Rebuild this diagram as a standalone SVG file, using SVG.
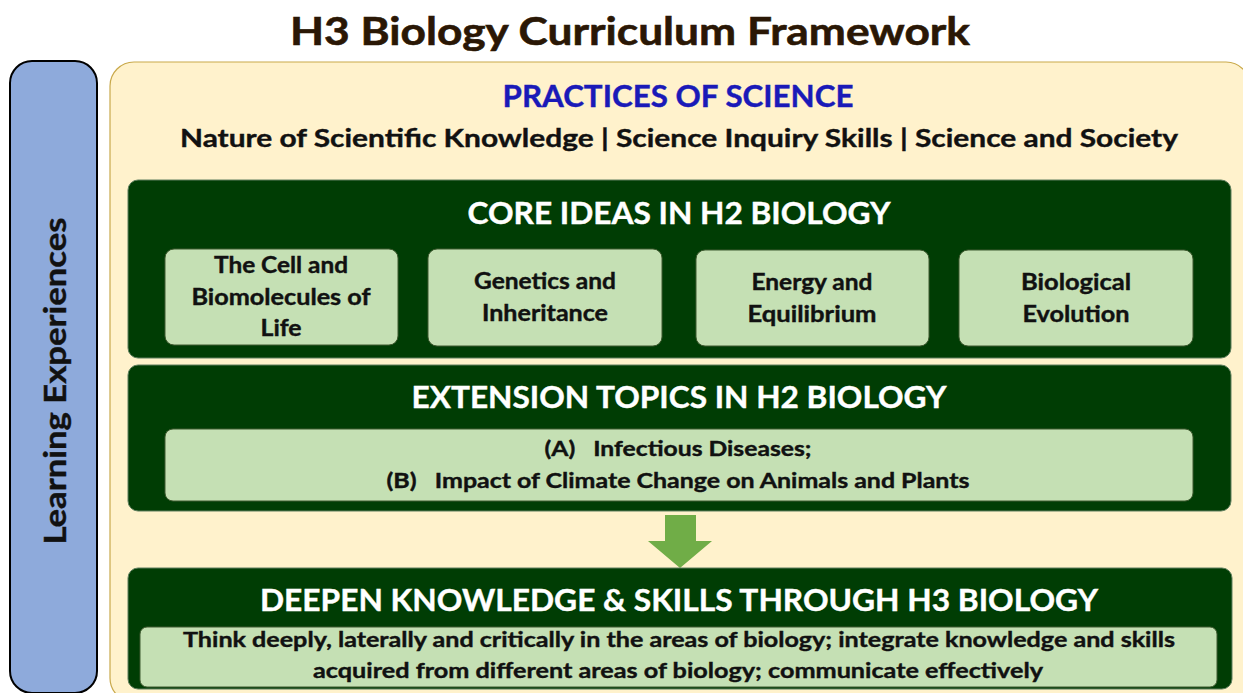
<svg xmlns="http://www.w3.org/2000/svg" width="1243" height="693" viewBox="0 0 1243 693">
<style>
text{font-family:Lato,"Open Sans","Liberation Sans",sans-serif;font-weight:bold;text-anchor:middle}
.dark{fill:#003d04;stroke:#5e7f5e;stroke-width:1}
.light{fill:#c5e0b4;stroke:#3f5a30;stroke-width:1}
.hd{fill:#ffffff;font-size:31px;stroke:#ffffff;stroke-width:0.4}
.lt{fill:#111111;font-size:22px;stroke:#111111;stroke-width:0.4}
.et{fill:#111111;font-size:21px;stroke:#111111;stroke-width:0.4}
</style>
<rect width="1243" height="693" fill="#ffffff"/>
<text x="630" y="45" fill="#2a1705" stroke="#2a1705" stroke-width="0.6" font-size="39" textLength="680" lengthAdjust="spacingAndGlyphs">H3 Biology Curriculum Framework</text>
<g id="learning-experiences">
<rect x="10" y="61" width="87" height="632" rx="22" fill="#8eaadb" stroke="#000000" stroke-width="2"/>
<text transform="translate(66,381) rotate(-90)" fill="#111111" stroke="#111111" stroke-width="0.4" font-size="30" textLength="327" lengthAdjust="spacingAndGlyphs">Learning Experiences</text>
</g>
<g id="practices-of-science">
<rect x="110" y="62" width="1140" height="640" rx="24" fill="#fff2cc" stroke="#c9a94b" stroke-width="1.2"/>
<text x="678" y="107" fill="#1a1ab8" stroke="#1a1ab8" stroke-width="0.4" font-size="30" textLength="351" lengthAdjust="spacingAndGlyphs">PRACTICES OF SCIENCE</text>
<text x="679" y="147" fill="#111111" stroke="#111111" stroke-width="0.4" font-size="25" textLength="998" lengthAdjust="spacingAndGlyphs">Nature of Scientific Knowledge | Science Inquiry Skills | Science and Society</text>
</g>
<g id="core-ideas">
<rect class="dark" x="128" y="180" width="1103" height="178" rx="10"/>
<text class="hd" x="679" y="224" textLength="423" lengthAdjust="spacingAndGlyphs">CORE IDEAS IN H2 BIOLOGY</text>
</g>
<g id="cell-biomolecules">
<rect class="light" x="165" y="249" width="233" height="96" rx="9"/>
<text class="lt" x="281" y="273" textLength="134" lengthAdjust="spacingAndGlyphs">The Cell and</text>
<text class="lt" x="281" y="305" textLength="179" lengthAdjust="spacingAndGlyphs">Biomolecules of</text>
<text class="lt" x="281" y="336" textLength="41" lengthAdjust="spacingAndGlyphs">Life</text>
</g>
<g id="genetics-inheritance">
<rect class="light" x="428" y="249" width="234" height="97" rx="9"/>
<text class="lt" x="545" y="289" textLength="142" lengthAdjust="spacingAndGlyphs">Genetics and</text>
<text class="lt" x="545" y="321" textLength="126" lengthAdjust="spacingAndGlyphs">Inheritance</text>
</g>
<g id="energy-equilibrium">
<rect class="light" x="696" y="250" width="233" height="96" rx="9"/>
<text class="lt" x="812" y="290" textLength="121" lengthAdjust="spacingAndGlyphs">Energy and</text>
<text class="lt" x="812" y="322" textLength="129" lengthAdjust="spacingAndGlyphs">Equilibrium</text>
</g>
<g id="biological-evolution">
<rect class="light" x="959" y="250" width="234" height="96" rx="9"/>
<text class="lt" x="1076" y="290" textLength="110" lengthAdjust="spacingAndGlyphs">Biological</text>
<text class="lt" x="1076" y="322" textLength="107" lengthAdjust="spacingAndGlyphs">Evolution</text>
</g>
<g id="extension-topics">
<rect class="dark" x="128" y="365" width="1103" height="146" rx="10"/>
<text class="hd" x="679" y="408" textLength="535" lengthAdjust="spacingAndGlyphs">EXTENSION TOPICS IN H2 BIOLOGY</text>
<rect class="light" x="165" y="429" width="1028" height="72" rx="8"/>
<text class="et" x="678" y="456" xml:space="preserve" textLength="267" lengthAdjust="spacingAndGlyphs">(A)   Infectious Diseases;</text>
<text class="et" x="678" y="488" xml:space="preserve" textLength="583" lengthAdjust="spacingAndGlyphs">(B)   Impact of Climate Change on Animals and Plants</text>
</g>
<g id="connectors">
<polygon points="665,515 696,515 696,541 712,541 680,568 648,541 665,541" fill="#70ad47"/>
</g>
<g id="deepen-knowledge">
<rect class="dark" x="128" y="568" width="1104" height="121" rx="10"/>
<text class="hd" x="679" y="611" font-size="32" textLength="838" lengthAdjust="spacingAndGlyphs">DEEPEN KNOWLEDGE &amp; SKILLS THROUGH H3 BIOLOGY</text>
<rect class="light" x="140" y="627" width="1077" height="60" rx="7"/>
<text class="et" x="679" y="647" textLength="992" lengthAdjust="spacingAndGlyphs">Think deeply, laterally and critically in the areas of biology; integrate knowledge and skills</text>
<text class="et" x="678" y="678" textLength="730" lengthAdjust="spacingAndGlyphs">acquired from different areas of biology; communicate effectively</text>
</g>
</svg>
